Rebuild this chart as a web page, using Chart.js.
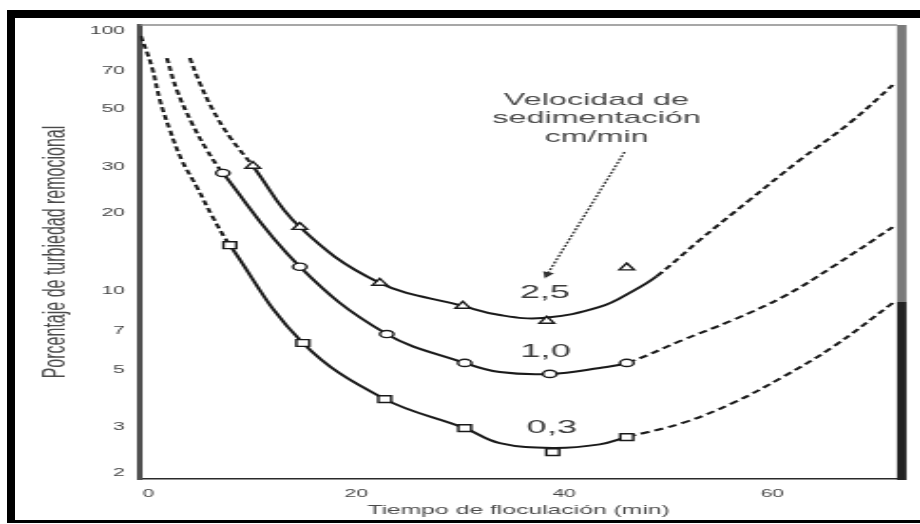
<!DOCTYPE html>
<html><head><meta charset="utf-8">
<script src="https://cdn.jsdelivr.net/npm/chart.js@4/dist/chart.umd.min.js"></script>
<style>
html,body{margin:0;padding:0;background:#fff;overflow:hidden;width:920px;height:524px}
#wrap{position:relative;width:920px;height:524px;overflow:hidden}
#c{position:absolute;left:0;top:0;transform-origin:0 0;transform:scaleX(1.90083)}
#frame{position:absolute;left:7px;top:10px;width:1000px;height:502px;border-top:8px solid #000;border-left:8px solid #000;border-bottom:3px solid #000;pointer-events:none}
</style></head>
<body><div id="wrap"><canvas id="c" width="484" height="524"></canvas><div id="frame"></div></div>
<script>
// ---- data ----
const xTicks = [0, 20, 40, 60];
const yTicks = [2, 3, 5, 7, 10, 20, 30, 50, 70, 100];
const seriesLabels = ['2,5', '1,0', '0,3'];

// measured points (markers)
const m25x = [10.05, 14.57, 22.26, 30.24, 38.32, 46.01];
const m25y = [30.2, 17.6, 10.74, 8.77, 7.68, 12.3];
const m10x = [7.16, 14.57, 22.93, 30.43, 38.61, 46.01];
const m10y = [28.4, 12.4, 6.84, 5.30, 4.81, 5.30];
const m03x = [7.84, 14.86, 22.74, 30.43, 38.89, 46.01];
const m03y = [15.0, 6.32, 3.85, 2.98, 2.41, 2.75];

// fitted curves
const c25x = [3.99, 4.95, 6.20, 7.84, 10.05, 14.57, 22.26, 30.24, 33.80, 37.93, 43.41, 46.59, 48.89, 53.03, 57.84, 62.64, 67.45, 71.59];
const c25y = [78.4, 62.9, 49.6, 39.0, 30.2, 17.6, 10.74, 8.77, 8.09, 7.88, 8.69, 10.0, 11.4, 15.7, 22.4, 31.8, 44.2, 61.8];
const c10x = [1.78, 2.74, 4.18, 5.63, 7.16, 14.57, 22.93, 30.43, 33.80, 38.61, 43.41, 46.01, 51.39, 56.2, 61.01, 65.82, 71.59];
const c10y = [78.4, 59.1, 44.2, 34.8, 28.4, 12.4, 6.84, 5.30, 4.89, 4.81, 5.07, 5.30, 6.49, 7.74, 9.49, 12.4, 17.6];
const c03x = [-0.72, 0.34, 1.11, 2.07, 3.22, 4.66, 6.20, 7.84, 14.86, 22.74, 30.43, 33.80, 38.89, 43.41, 46.01, 51.39, 56.2, 61.01, 65.82, 71.59];
const c03y = [95.3, 72.5, 54.1, 41.5, 31.8, 25.1, 19.2, 15.0, 6.32, 3.85, 2.98, 2.61, 2.50, 2.58, 2.75, 3.12, 3.72, 4.68, 6.10, 9.00];

// x-range of the solid (measured) part of each curve
const solid25 = [10.05, 48.89];
const solid10 = [7.16, 46.01];
const solid03 = [7.84, 46.01];

// annotations (data coordinates)
const noteLines = ['Velocidad de', 'sedimentación', 'cm/min'];
const noteAt = [43.1, 54.1];
const arrowFrom = [45.8, 34.2];
const arrowTo = [38.13, 11.2];
const labelAt = [[38.13, 9.83], [38.2, 5.84], [38.8, 2.98]];

// ---- chart ----
const FONT = "'Liberation Sans', Arial, Helvetica, sans-serif";
Chart.defaults.font.family = FONT;
const INK = '#1a1a1a';
const DASH = [5, 3];

const pts = (xs, ys) => xs.map((x, i) => ({x: x, y: ys[i]}));
function curve(xs, ys, solid) {
  return {
    type: 'line', data: pts(xs, ys), borderColor: INK, borderWidth: 2,
    pointRadius: 0, fill: false, tension: 0.4, order: 2,
    segment: {
      borderDash: c => (c.p1.parsed.x <= solid[0] + 1e-9 || c.p0.parsed.x >= solid[1] - 1e-9) ? DASH : undefined
    }
  };
}
function marks(xs, ys, style, r) {
  return {
    type: 'scatter', data: pts(xs, ys), showLine: false, pointStyle: style, pointRadius: r,
    pointBackgroundColor: '#fff', pointBorderColor: INK, pointBorderWidth: 1.4, order: 1
  };
}

const decor = {
  id: 'decor',
  afterDatasetsDraw(chart) {
    const {ctx, chartArea: a, scales: {x, y}} = chart;
    ctx.save();
    // top border of plot
    ctx.strokeStyle = '#8a8a8a'; ctx.lineWidth = 1.5;
    ctx.beginPath(); ctx.moveTo(a.left, a.top); ctx.lineTo(a.right, a.top); ctx.stroke();
    // right border bar
    const split = a.top + (a.bottom - a.top) * 0.61;
    ctx.fillStyle = '#7a7a7a'; ctx.fillRect(a.right, a.top, 5, split - a.top);
    ctx.fillStyle = '#222'; ctx.fillRect(a.right, split, 5, a.bottom - split + 1);

    // note text
    ctx.fillStyle = '#4a4a4a';
    ctx.font = '17px ' + FONT;
    ctx.textAlign = 'center'; ctx.textBaseline = 'middle';
    const nx = x.getPixelForValue(noteAt[0]), ny = y.getPixelForValue(noteAt[1]);
    noteLines.forEach((t, i) => ctx.fillText(t, nx, ny + i * 18.5));

    // arrow
    const x0 = x.getPixelForValue(arrowFrom[0]), y0 = y.getPixelForValue(arrowFrom[1]);
    const x1 = x.getPixelForValue(arrowTo[0]), y1 = y.getPixelForValue(arrowTo[1]);
    ctx.strokeStyle = '#3a3a3a'; ctx.lineWidth = 1.4; ctx.setLineDash([2, 1.5]);
    ctx.beginPath(); ctx.moveTo(x0, y0); ctx.lineTo(x1, y1); ctx.stroke();
    ctx.setLineDash([]);
    const ang = Math.atan2(y1 - y0, x1 - x0), L = 7, W = 0.45;
    ctx.fillStyle = '#333';
    ctx.beginPath();
    ctx.moveTo(x1, y1);
    ctx.lineTo(x1 - L * Math.cos(ang - W), y1 - L * Math.sin(ang - W));
    ctx.lineTo(x1 - L * Math.cos(ang + W), y1 - L * Math.sin(ang + W));
    ctx.closePath(); ctx.fill();

    // series labels
    ctx.fillStyle = '#3c3c3c';
    ctx.font = '19px ' + FONT;
    labelAt.forEach((p, i) => ctx.fillText(seriesLabels[i], x.getPixelForValue(p[0]), y.getPixelForValue(p[1])));
    ctx.restore();
  }
};

new Chart(document.getElementById('c'), {
  data: {
    datasets: [
      curve(c25x, c25y, solid25), curve(c10x, c10y, solid10), curve(c03x, c03y, solid03),
      marks(m25x, m25y, 'triangle', 4.5), marks(m10x, m10y, 'circle', 3.6), marks(m03x, m03y, 'rect', 4.8)
    ]
  },
  options: {
    responsive: false, maintainAspectRatio: false, animation: false,
    layout: {padding: {left: 0, right: 12.1, top: 25, bottom: 0}},
    plugins: {legend: {display: false}, tooltip: {enabled: false}},
    scales: {
      x: {
        type: 'linear', min: -0.8, max: 72.0,
        grid: {display: false, drawTicks: false},
        border: {display: true, color: '#2a2a2a', width: 1.6},
        afterBuildTicks: s => { s.ticks = xTicks.map(v => ({value: v})); },
        ticks: {font: {size: 11}, color: '#444', padding: 8, maxRotation: 0, autoSkip: false, callback: v => String(v)},
        title: {display: true, text: 'Tiempo de floculación (min)', font: {size: 13}, color: '#4a4a4a', padding: {top: 0, bottom: 6}},
        afterFit: s => { s.height = 45; }
      },
      y: {
        type: 'logarithmic', min: 1.9, max: 105,
        grid: {display: false, drawTicks: false},
        border: {display: true, color: '#505050', width: 3},
        afterBuildTicks: s => { s.ticks = yTicks.map(v => ({value: v})); },
        ticks: {font: {size: 11}, color: '#444', padding: 8, autoSkip: false, callback: v => String(v)},
        title: {display: true, text: 'Porcentaje de turbiedad remocional', font: {size: 16}, color: '#4a4a4a', padding: {top: 20, bottom: 0}},
        afterFit: s => { s.width = 73.65; }
      }
    }
  },
  plugins: [decor]
});
</script>
</body></html>
